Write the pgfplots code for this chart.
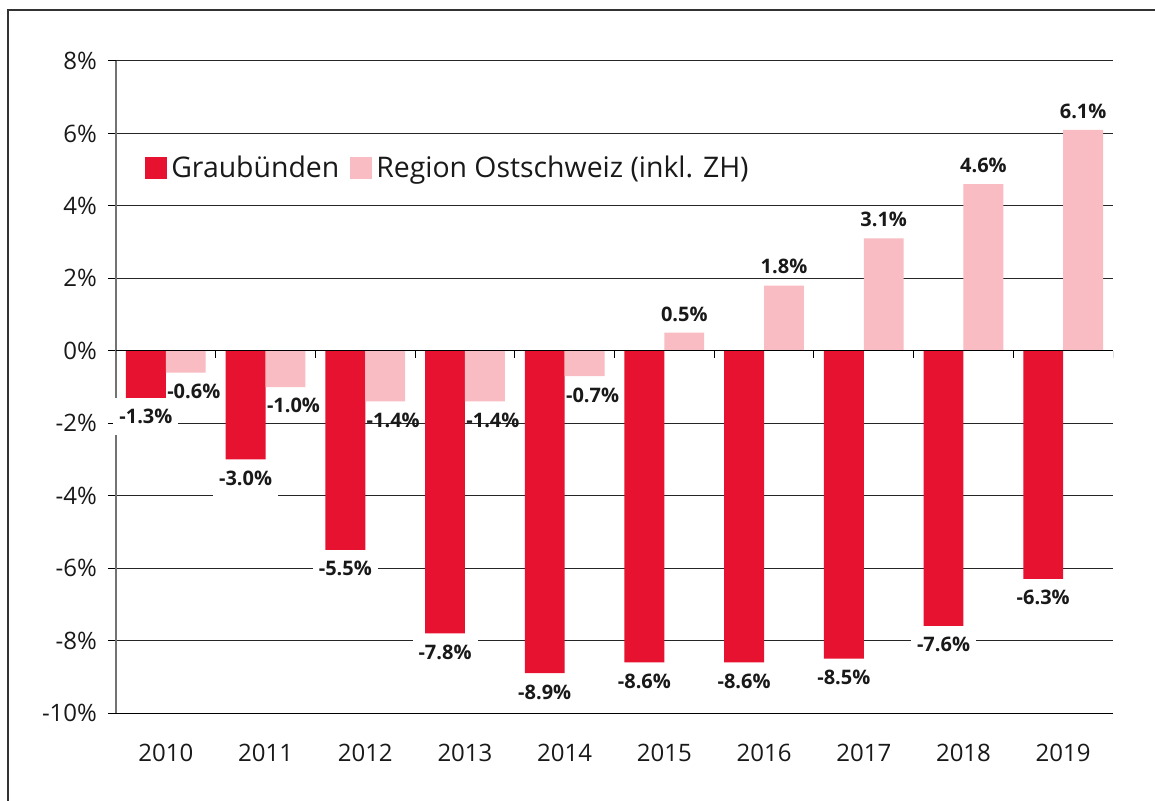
\documentclass[border=0pt]{standalone}
\usepackage{pgfplots}
\pgfplotsset{compat=1.18}
\usepackage{fontspec}
\setmainfont{Open Sans}
\definecolor{gbred}{RGB}{230,18,48}
\definecolor{ospink}{RGB}{248,188,194}
\definecolor{txt}{RGB}{25,25,25}
\begin{document}
\begin{tikzpicture}
\begin{axis}[
  at={(58pt,43.5pt)}, anchor=south west,
  scale only axis, width=498.5pt, height=326pt,
  xmin=-0.5, xmax=9.5, ymin=-10, ymax=8,
  ybar=0pt,
  xtick={0,...,9},
  xticklabels={2010,2011,2012,2013,2014,2015,2016,2017,2018,2019},
  ytick={-10,-8,...,8},
  yticklabels={-10\%,-8\%,-6\%,-4\%,-2\%,0\%,2\%,4\%,6\%,8\%},
  axis x line*=bottom, axis y line*=left,
  x axis line style={black, line width=0.5pt, -},
  y axis line style={black!55, line width=0.8pt, -},
  ymajorgrids, major grid style={black!85, line width=0.5pt},
  tick align=outside, major tick length=4pt,
  xtick style={draw=none}, ytick style={black, line width=0.5pt},
  tick label style={font=\fontsize{12}{14}\selectfont, text=txt},
  xticklabel style={yshift=-8pt},
  yticklabel style={xshift=-2pt},
  legend columns=2,
  legend style={at={(0.029,0.836)}, anchor=west, draw=none, fill=none,
    inner sep=0pt, font=\fontsize{14.2}{17}\selectfont, text=txt,
    /tikz/every even column/.append style={column sep=3.5pt}},
  legend cell align=left,
  nodes near coords={\pgfmathprintnumber[fixed,fixed zerofill,precision=1,assume math mode=true]{\pgfplotspointmeta}\%},
  every node near coord/.append style={font=\bfseries\fontsize{10}{12}\selectfont, text=txt, inner xsep=3pt, inner ysep=5.5pt},
]
\addplot[fill=gbred, draw=none, bar width=0.4, bar shift=-0.2,
  every node near coord/.append style={fill=white},
  legend image code/.code={\fill[gbred] (0pt,-5.5pt) rectangle (11pt,5.5pt);}]
  coordinates {(0,-1.3) (1,-3.0) (2,-5.5) (3,-7.8) (4,-8.9) (5,-8.6) (6,-8.6) (7,-8.5) (8,-7.6) (9,-6.3)};
\addlegendentry{Graubünden}
\addplot[fill=ospink, draw=none, bar width=0.4, bar shift=0.2,
  legend image code/.code={\fill[ospink] (0pt,-5.5pt) rectangle (11pt,5.5pt);}]
  coordinates {(5,0.5) (6,1.8) (7,3.1) (8,4.6) (9,6.1)};
\addlegendentry{Region Ostschweiz (inkl. ZH)}
\addplot[fill=ospink, draw=none, bar width=0.4, bar shift=0.2, forget plot,
  every node near coord/.append style={xshift=4pt}]
  coordinates {(0,-0.6) (1,-1.0) (2,-1.4) (3,-1.4) (4,-0.7)};
\draw[black, line width=0.5pt] (axis cs:-0.5,0) -- (axis cs:9.5,0);
\pgfplotsinvokeforeach{0.5,1.5,...,9.5}{
  \draw[black, line width=0.5pt] (axis cs:#1,0) -- ([yshift=-3.5pt]axis cs:#1,0);
}
\end{axis}
\pgfresetboundingbox
\path[use as bounding box] (0,0) rectangle (577.5pt,400pt);
\draw[black!80, line width=0.6pt] (4pt,-10pt) -- (4pt,395pt) -- (600pt,395pt);
\end{tikzpicture}
\end{document}
